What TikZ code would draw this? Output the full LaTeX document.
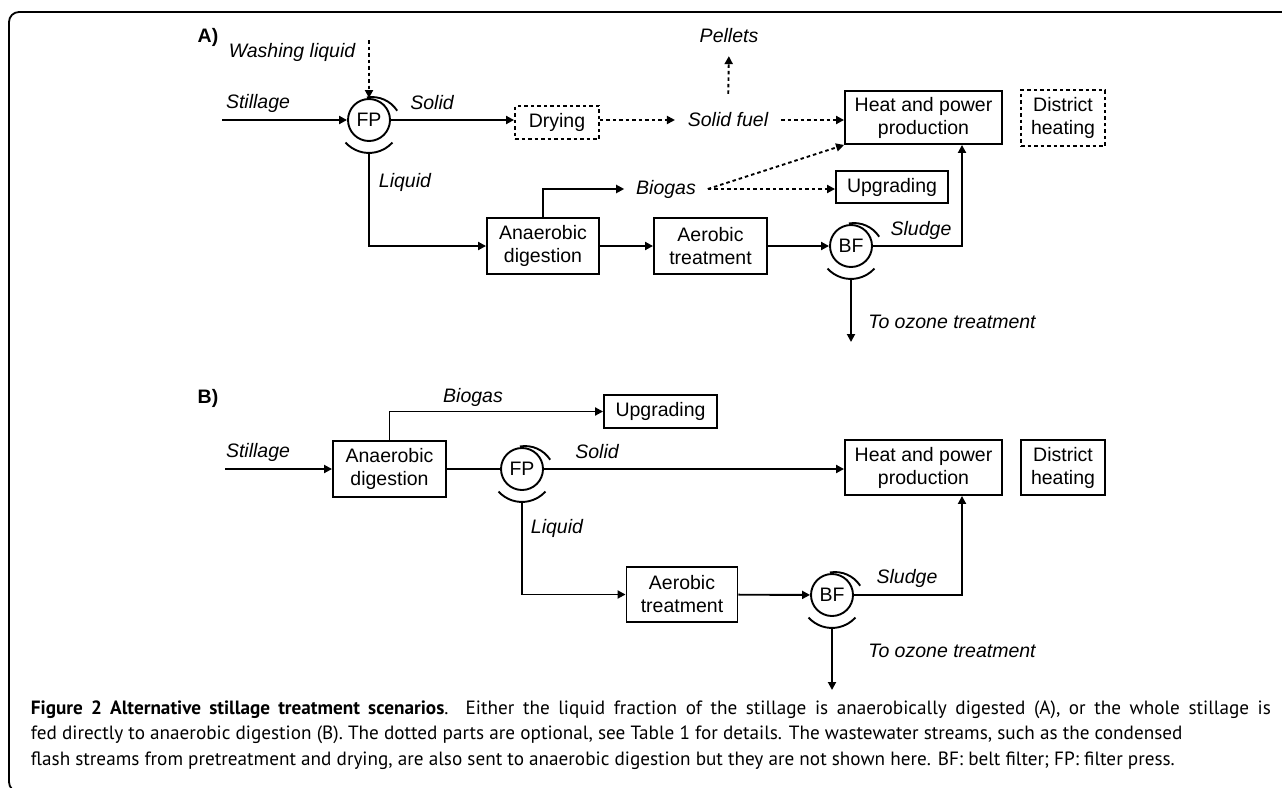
\documentclass[tikz,border=0pt]{standalone}
\usepackage{fontspec}
\setmainfont{Liberation Sans}
\newfontfamily\capfont{PT Sans}
\usetikzlibrary{arrows.meta}

\newcommand{\sepmarks}[1]{%
  \draw ([shift={(-2.2pt,22.5pt)}]#1.center) arc[start angle=100,end angle=33,radius=30pt];
  \draw ([shift={(-23.5pt,-22.5pt)}]#1.center) arc[start angle=222,end angle=318,radius=31.6pt];
}

\begin{document}
\begin{tikzpicture}
  [x=1pt,y=1pt,line width=1.9pt,>={Triangle[length=8pt,width=8pt]},
   font=\fontsize{19.5}{23}\selectfont,
   box/.style={draw,rectangle,align=center,inner sep=0pt},
   opt/.style={dash pattern=on 3.5pt off 3pt},
   opt box/.style={box,opt},
   sep node/.style={circle,draw,minimum size=42pt,inner sep=0pt},
   flow/.style={font=\fontsize{19.5}{23}\selectfont\itshape,inner sep=2pt}]
  \useasboundingbox (0,0) rectangle (1282,-787);
  \draw[line width=1.8pt,rounded corners=10pt] (9,-792) rectangle (1300,-12);

  % A)
  \node[font=\fontsize{19.5}{23}\selectfont\bfseries] (taga) at (208,-37) {A)};
  \node[sep node] (fpa) at (369,-120) {FP};
  \node[opt box,minimum width=84pt,minimum height=33pt] (drya) at (557,-122.5) {Drying};
  \node[box,minimum width=157pt,minimum height=53pt] (hpa) at (923.5,-117.5) {Heat and power\\production};
  \node[opt box,minimum width=84pt,minimum height=56pt] (dha) at (1063,-118) {District\\heating};
  \node[box,minimum width=112pt,minimum height=32pt] (upa) at (892,-187) {Upgrading};
  \node[box,minimum width=112pt,minimum height=56pt] (ada) at (543,-246) {Anaerobic\\digestion};
  \node[box,minimum width=113pt,minimum height=56pt] (aera) at (710.5,-246) {Aerobic\\treatment};
  \node[sep node] (bfa) at (851,-246) {BF};

  \node[flow] (washa) at (292,-52) {Washing liquid};
  \node[flow] (stla) at (258,-103) {Stillage};
  \node[flow] (sola) at (432,-103) {Solid};
  \node[flow,inner xsep=12pt] (sfuela) at (728,-120) {Solid fuel};
  \node[flow] (pela) at (729,-36) {Pellets};
  \node[flow,inner xsep=11pt] (bioa) at (666,-189) {Biogas};
  \node[flow] (liqa) at (405,-182) {Liquid};
  \node[flow] (sluda) at (921,-230) {Sludge};
  \node[flow] (ozonea) at (952,-322) {To ozone treatment};

  \coordinate (ina) at (222,-120);
  \coordinate (wina) at (369,-40);
  \coordinate (outa) at (851,-342);
  \coordinate (fpliqa) at ([yshift=-33pt]fpa.center);
  \coordinate (bfliqa) at ([yshift=-33pt]bfa.center);
  \sepmarks{fpa}
  \sepmarks{bfa}

  \draw[->] (ina) -- (fpa);
  \draw[->,opt] (wina) -- (fpa);
  \draw[->] (fpa) -- (fpa -| drya.west);
  \draw[->,opt] (drya.east |- fpa) -- (sfuela);
  \draw[->,opt] (sfuela.east) -- (sfuela.east -| hpa.west);
  \draw[->,opt,shorten <=16pt,shorten >=10pt] (sfuela.north) -- (pela.south);
  \draw[->] (ada.north) |- (bioa.west);
  \draw[->,opt] (bioa.east) -- (hpa.south west);
  \draw[->,opt] (bioa.east) -- (bioa.east -| upa.west);
  \draw[->] (fpliqa) |- (ada);
  \draw[->] (ada) -- (aera);
  \draw[->] (aera) -- (bfa);
  \draw[->] (bfa) -| ([xshift=38.5pt]hpa.south);
  \draw[->] (bfliqa) -- (outa);

  % B)
  \node[font=\fontsize{19.5}{23}\selectfont\bfseries] (tagb) at (208,-398) {B)};
  \node[box,minimum width=113pt,minimum height=56pt] (adb) at (389.5,-469) {Anaerobic\\digestion};
  \node[box,minimum width=113pt,minimum height=33pt] (upb) at (660.5,-411.5) {Upgrading};
  \node[sep node] (fpb) at (522,-469) {FP};
  \node[box,minimum width=157pt,minimum height=55pt] (hpb) at (923.5,-467.5) {Heat and power\\production};
  \node[box,minimum width=84pt,minimum height=55pt] (dhb) at (1063,-467.5) {District\\heating};
  \node[box,minimum width=111pt,minimum height=55pt] (aerb) at (682,-594.5) {Aerobic\\treatment};
  \node[sep node] (bfb) at (832,-595) {BF};

  \node[flow] (stlb) at (258,-452) {Stillage};
  \node[flow] (biob) at (473,-397) {Biogas};
  \node[flow] (solb) at (597,-452) {Solid};
  \node[flow] (liqb) at (557,-528) {Liquid};
  \node[flow] (sludb) at (907,-578) {Sludge};
  \node[flow] (ozoneb) at (952,-651) {To ozone treatment};

  \coordinate (inb) at (225,-469);
  \coordinate (outb) at (832,-690);
  \coordinate (fpliqb) at ([yshift=-33pt]fpb.center);
  \coordinate (bfliqb) at ([yshift=-33pt]bfb.center);
  \sepmarks{fpb}
  \sepmarks{bfb}

  \draw[->] (inb) -- (adb);
  \draw[->] (adb.north) |- (upb.west);
  \draw (adb) -- (fpb);
  \draw[->] (fpb) -- (fpb -| hpb.west);
  \draw[->] (fpliqb) |- (aerb);
  \draw[->] (aerb) -- (bfb);
  \draw[->] (bfb) -| ([xshift=38.5pt]hpb.south);
  \draw[->] (bfliqb) -- (outb);

  % caption
  \node[anchor=base west,inner sep=0pt,font=\capfont\fontsize{19.2}{22}\selectfont] (cap1) at (30,-714)
    {\makebox[1240pt][s]{\textbf{Figure 2 Alternative stillage treatment scenarios}. Either the liquid fraction of the stillage is anaerobically digested (A), or the whole stillage is}};
  \node[anchor=base west,inner sep=0pt,font=\capfont\fontsize{19.2}{22}\selectfont] (cap2) at (30,-739.5)
    {fed directly to anaerobic digestion (B). The dotted parts are optional, see Table 1 for details. The wastewater streams, such as the condensed};
  \node[anchor=base west,inner sep=0pt,font=\capfont\fontsize{19.2}{22}\selectfont] (cap3) at (30,-765)
    {flash streams from pretreatment and drying, are also sent to anaerobic digestion but they are not shown here. BF: belt filter; FP: filter press.};
\end{tikzpicture}
\end{document}
